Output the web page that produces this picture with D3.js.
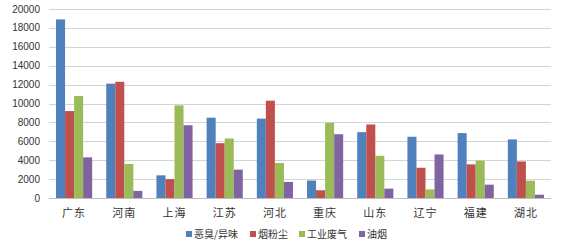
<!DOCTYPE html>
<html>
<head>
<meta charset="utf-8">
<script src="https://cdn.jsdelivr.net/npm/d3@7"></script>
<style>
  body { margin: 0; background: #fff; }
  svg text { font-family: "Noto Sans CJK SC", "DejaVu Sans", sans-serif; fill: #333; }
</style>
</head>
<body>
<div id="chart"></div>
<script>
var provinces = ["广东", "河南", "上海", "江苏", "河北", "重庆", "山东", "辽宁", "福建", "湖北"];
var seriesNames = ["恶臭/异味", "烟粉尘", "工业废气", "油烟"];
var odor    = [18900, 12100, 2400, 8500, 8400, 1850, 6970, 6480, 6870, 6200];
var dust    = [9200, 12300, 2000, 5800, 10300, 820, 7780, 3200, 3560, 3870];
var exhaust = [10800, 3600, 9800, 6300, 3700, 7950, 4470, 910, 3950, 1830];
var fumes   = [4300, 750, 7700, 3000, 1700, 6750, 990, 4610, 1410, 350];
var yTicks = [0, 2000, 4000, 6000, 8000, 10000, 12000, 14000, 16000, 18000, 20000];

var colors = ["#4F81BD", "#C0504D", "#9BBB59", "#8064A2"];
var series = [odor, dust, exhaust, fumes];

var margins = {top: 9, right: 551, bottom: 198, left: 49},
    width = 566, height = 246;

var svg = d3.select("#chart").append("svg")
    .attr("width", width)
    .attr("height", height);

var x = d3.scaleBand()
    .domain(provinces)
    .range([margins.left, margins.right])
    .paddingInner(0.28)
    .paddingOuter(0.14);

var x1 = d3.scaleBand()
    .domain(d3.range(series.length))
    .range([0, x.bandwidth()]);

var y = d3.scaleLinear()
    .domain([0, 20000])
    .range([margins.bottom, margins.top]);

// gridlines
svg.append("g")
    .selectAll("line")
    .data(yTicks.slice(1))
    .enter().append("line")
    .attr("x1", margins.left)
    .attr("x2", margins.right)
    .attr("y1", function(d) { return Math.round(y(d)) + 0.5; })
    .attr("y2", function(d) { return Math.round(y(d)) + 0.5; })
    .style("stroke", "#d4d4d4")
    .style("stroke-width", 1);

// y tick labels
svg.append("g")
    .selectAll("text")
    .data(yTicks)
    .enter().append("text")
    .attr("x", 40)
    .attr("y", function(d) { return y(d); })
    .attr("dy", "0.35em")
    .attr("text-anchor", "end")
    .style("font-family", "Arial, 'Liberation Sans', sans-serif")
    .style("font-size", "10px")
    .text(function(d) { return d; });

// bars
var groups = svg.append("g")
    .selectAll("g")
    .data(series)
    .enter().append("g")
    .style("fill", function(d, k) { return colors[k]; });

groups.each(function(values, k) {
    d3.select(this).selectAll("rect")
        .data(values)
        .enter().append("rect")
        .attr("x", function(d, i) { return x(provinces[i]) + x1(k); })
        .attr("y", function(d) { return y(d); })
        .attr("width", x1.bandwidth())
        .attr("height", function(d) { return y(0) - y(d); });
});

// baseline
svg.append("line")
    .attr("x1", margins.left)
    .attr("x2", margins.right)
    .attr("y1", margins.bottom + 0.5)
    .attr("y2", margins.bottom + 0.5)
    .style("stroke", "#bfbfbf");

// x labels
svg.append("g")
    .selectAll("text")
    .data(provinces)
    .enter().append("text")
    .attr("x", function(d) { return x(d) + x.bandwidth() / 2; })
    .attr("y", 213)
    .attr("dy", "0.35em")
    .attr("text-anchor", "middle")
    .style("font-size", "11px")
    .style("letter-spacing", "1px")
    .text(function(d) { return d; });

// legend
var legendX = [186, 250, 299, 359];
var legend = svg.append("g")
    .selectAll("g")
    .data(seriesNames)
    .enter().append("g")
    .attr("transform", function(d, k) { return "translate(" + legendX[k] + ",234)"; });

legend.append("rect")
    .attr("x", 0)
    .attr("y", -3)
    .attr("width", 6)
    .attr("height", 6)
    .style("fill", function(d, k) { return colors[k]; });

legend.append("text")
    .attr("x", 8)
    .attr("y", 0)
    .attr("dy", "0.35em")
    .style("font-size", "10px")
    .text(function(d) { return d; });
</script>
</body>
</html>
